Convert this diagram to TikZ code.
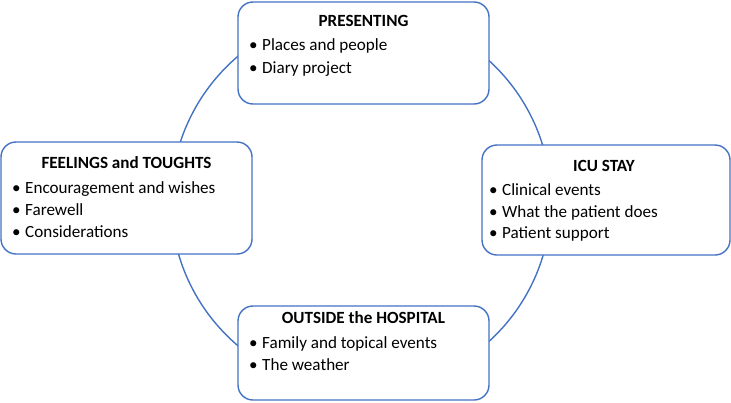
\documentclass[tikz,border=0pt]{standalone}
\usepackage{fontspec}
\setmainfont{Carlito}
\definecolor{boxblue}{HTML}{4472C4}
\newcommand\bul{\makebox[13pt][l]{\textbullet}}
\begin{document}
\begin{tikzpicture}[x=1pt,y=-1pt,
  box/.style={draw=boxblue, line width=1.4pt, rounded corners=15pt, fill=white, inner sep=0pt},
  title/.style={font=\fontsize{17.1}{20}\selectfont\bfseries, inner sep=0pt, text height=0.7em, text depth=0.2em},
  item/.style={font=\fontsize{17.1}{20}\selectfont, inner sep=0pt, anchor=west, text height=0.7em, text depth=0.25em},
  ring/.style={draw=boxblue, line width=1.4pt}]
\useasboundingbox (0,0) rectangle (731,402);
\coordinate (c) at (361,201);
\draw[ring] (c) circle[radius=190];
% PRESENTING
\node[box, minimum width=251pt, minimum height=102pt] (pres) at (363.5,53) {};
\node[title] (prest) at (363.5,24) {PRESENTING};
\node[item] (pres1) at (249,48) {\bul Places and people};
\node[item] (pres2) at (249,71) {\bul Diary project};
% FEELINGS
\node[box, minimum width=251pt, minimum height=112pt] (feel) at (126.5,198) {};
\node[title] (feelt) at (126.5,166) {FEELINGS and TOUGHTS};
\node[item] (feel1) at (12,191) {\bul Encouragement and wishes};
\node[item] (feel2) at (12,213) {\bul Farewell};
\node[item] (feel3) at (12,235) {\bul Considerations};
% ICU
\node[box, minimum width=248pt, minimum height=110pt] (icu) at (606,200) {};
\node[title] (icut) at (604,169) {ICU STAY};
\node[item] (icu1) at (489,193) {\bul Clinical events};
\node[item] (icu2) at (489,215) {\bul What the patient does};
\node[item] (icu3) at (489,236) {\bul Patient support};
% OUTSIDE
\node[box, minimum width=251pt, minimum height=94pt] (out) at (363.5,353) {};
\node[title] (outt) at (363.5,321) {OUTSIDE the HOSPITAL};
\node[item] (out1) at (249,346) {\bul Family and topical events};
\node[item] (out2) at (249,368) {\bul The weather};
\end{tikzpicture}
\end{document}
